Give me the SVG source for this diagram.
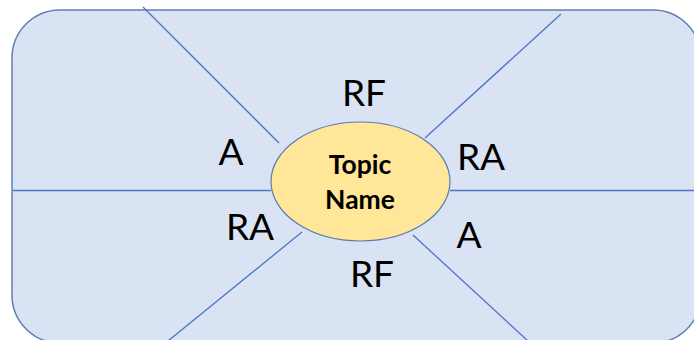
<svg xmlns="http://www.w3.org/2000/svg" width="694" height="340" viewBox="0 0 694 340">
<style>
.bg{fill:#dae3f3;stroke:#5f7fb5;stroke-width:1.5}
.ln{stroke:#4a76c6;stroke-width:1.3;fill:none}
.topic{fill:#ffe699;stroke:#5a7bb0;stroke-width:1.2}
.tt{font-family:"Lato","Liberation Sans",sans-serif;font-weight:bold;font-size:26.5px;fill:#000;text-anchor:middle}
.lb{font-family:"Lato","Liberation Sans",sans-serif;font-size:37px;fill:#000;text-anchor:middle}
</style>
<g id="frame">
<rect class="bg" x="12" y="10" width="689" height="333" rx="48" ry="48"/>
</g>
<g id="connectors">
<line class="ln" x1="143" y1="7" x2="279" y2="143"/>
<line class="ln" x1="561" y1="14" x2="425" y2="138"/>
<line class="ln" x1="13" y1="190.5" x2="271" y2="190.5"/>
<line class="ln" x1="450" y1="190.5" x2="694" y2="190.5"/>
<line class="ln" x1="302" y1="232" x2="168" y2="341"/>
<line class="ln" x1="413" y1="235" x2="528" y2="341"/>
</g>
<g id="topic">
<ellipse class="topic" cx="360.5" cy="181.5" rx="89.5" ry="59.5"/>
<text class="tt" x="360" y="174">Topic</text>
<text class="tt" x="360" y="209">Name</text>
</g>
<g id="label-rf-top"><text class="lb" x="364" y="106">RF</text></g>
<g id="label-a-left"><text class="lb" x="231" y="165">A</text></g>
<g id="label-ra-right"><text class="lb" x="481" y="170">RA</text></g>
<g id="label-ra-left"><text class="lb" x="250" y="240">RA</text></g>
<g id="label-a-right"><text class="lb" x="469" y="248">A</text></g>
<g id="label-rf-bottom"><text class="lb" x="372" y="287">RF</text></g>
</svg>
